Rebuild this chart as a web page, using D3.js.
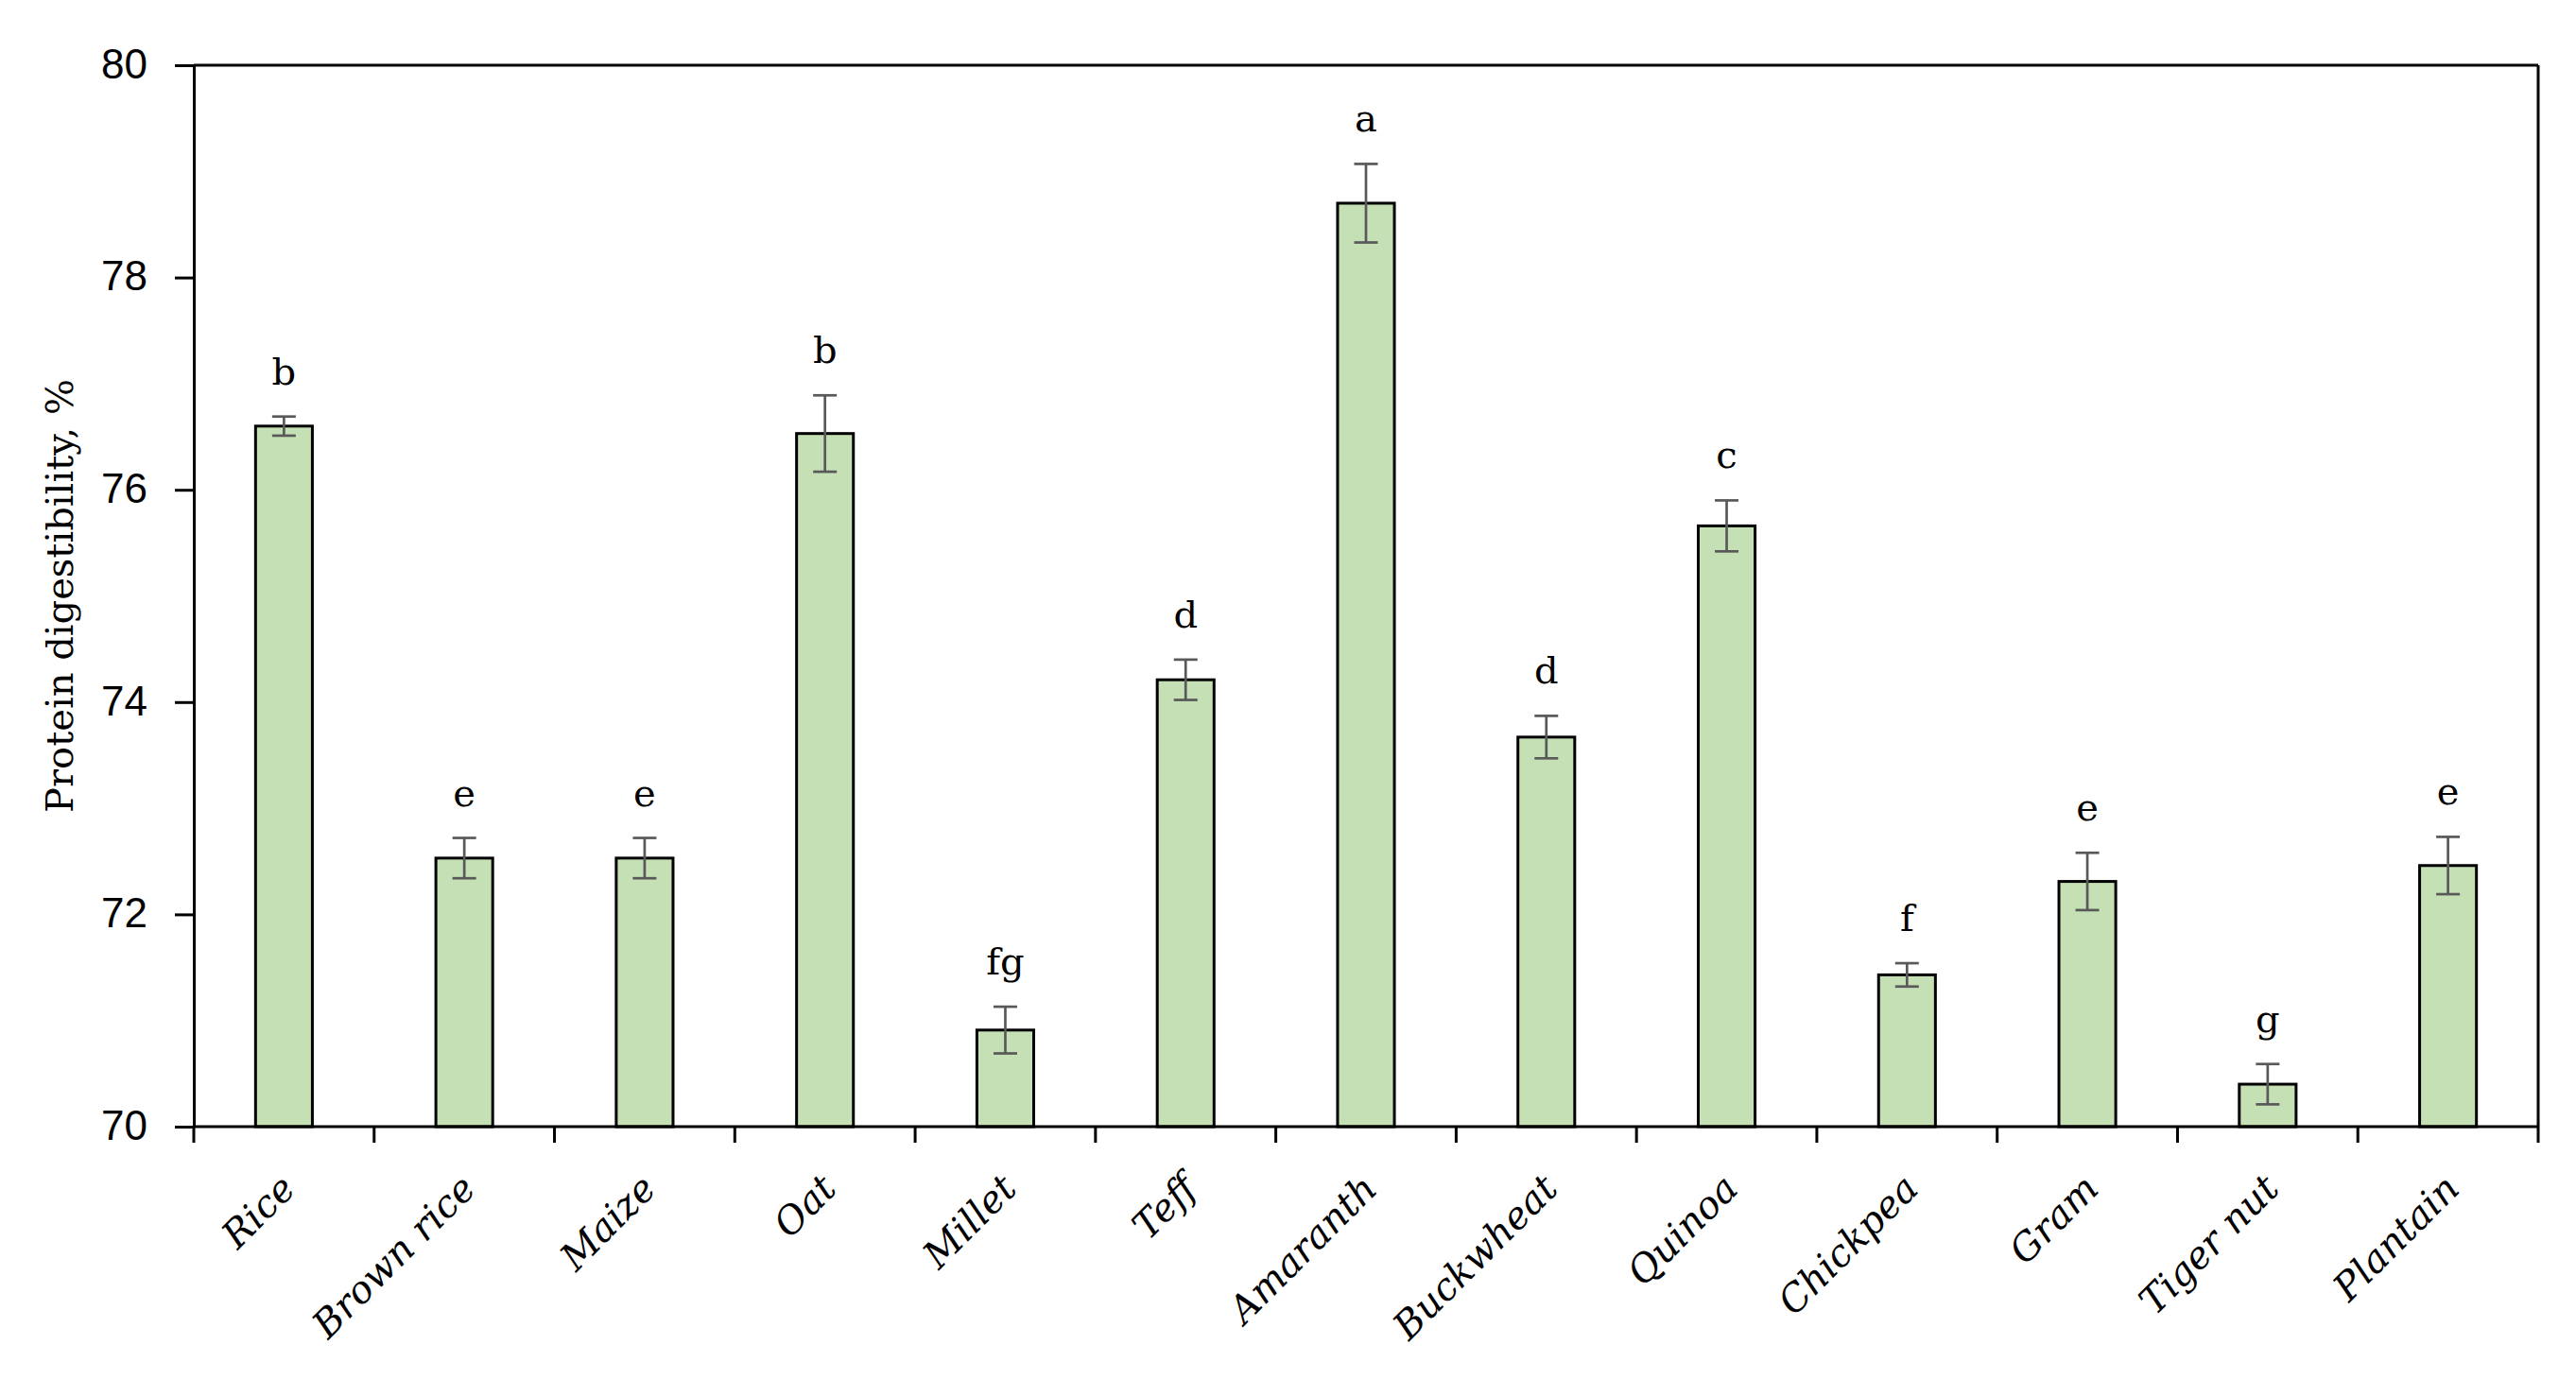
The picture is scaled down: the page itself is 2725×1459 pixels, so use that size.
<!DOCTYPE html>
<html>
<head>
<meta charset="utf-8">
<script src="https://cdn.jsdelivr.net/npm/d3@7"></script>
<style>
  html, body { margin: 0; padding: 0; background: #ffffff; }
  svg { display: block; }
</style>
</head>
<body>
<svg id="chart" width="2725" height="1459"></svg>
<script>
const categories = ["Rice", "Brown rice", "Maize", "Oat", "Millet", "Teff", "Amaranth", "Buckwheat", "Quinoa", "Chickpea", "Gram", "Tiger nut", "Plantain"];
const means = [76.60, 72.53, 72.53, 76.53, 70.91, 74.21, 78.70, 73.67, 75.66, 71.43, 72.31, 70.40, 72.46];
const errors = [0.09, 0.19, 0.19, 0.36, 0.22, 0.19, 0.37, 0.20, 0.24, 0.11, 0.27, 0.19, 0.27];
const letters = ["b", "e", "e", "b", "fg", "d", "a", "d", "c", "f", "e", "g", "e"];
const yTicks = [70, 72, 74, 76, 78, 80];
const yTitle = "Protein digestibility, %";

const svg = d3.select("#chart");
const W = 2725, H = 1459;
const m = { left: 205, right: W - 2685, top: 69, bottom: H - 1192 };
const x0 = m.left, x1 = W - m.right, y0 = H - m.bottom, y1 = m.top;

const data = categories.map((c, i) => ({ c, v: means[i], e: errors[i], l: letters[i] }));

const pad = 0.685;
const x = d3.scaleBand().domain(categories).range([x0, x1]).paddingInner(pad).paddingOuter(pad / 2);
const y = d3.scaleLinear().domain([70, 80]).range([y0, y1]);

const serif = "'DejaVu Serif', 'Liberation Serif', serif";
const sans = "'Liberation Sans', Arial, sans-serif";

// Bars
svg.append("g").selectAll("rect").data(data).join("rect")
  .attr("x", d => x(d.c))
  .attr("y", d => y(d.v))
  .attr("width", x.bandwidth())
  .attr("height", d => y(70) - y(d.v))
  .attr("fill", "#c5e0b4")
  .attr("stroke", "#000")
  .attr("stroke-width", 3);

// Error bars
const eg = svg.append("g").attr("stroke", "#595959").attr("stroke-width", 2.7);
const cx = d => x(d.c) + x.bandwidth() / 2;
const cap = 12.5;
eg.selectAll("line.v").data(data).join("line").attr("class", "v")
  .attr("x1", cx).attr("x2", cx)
  .attr("y1", d => y(d.v + d.e)).attr("y2", d => y(d.v - d.e));
eg.selectAll("line.t").data(data).join("line").attr("class", "t")
  .attr("x1", d => cx(d) - cap).attr("x2", d => cx(d) + cap)
  .attr("y1", d => y(d.v + d.e)).attr("y2", d => y(d.v + d.e));
eg.selectAll("line.b").data(data).join("line").attr("class", "b")
  .attr("x1", d => cx(d) - cap).attr("x2", d => cx(d) + cap)
  .attr("y1", d => y(d.v - d.e)).attr("y2", d => y(d.v - d.e));

// Significance letters
svg.append("g").selectAll("text").data(data).join("text")
  .attr("x", cx)
  .attr("y", d => y(d.v + d.e) - 34)
  .attr("text-anchor", "middle")
  .attr("font-family", serif)
  .attr("font-size", 40)
  .attr("fill", "#000")
  .text(d => d.l);

// Y axis
const yAxis = d3.axisLeft(y).tickValues(yTicks).tickSize(20).tickSizeOuter(0).tickPadding(29).tickFormat(d3.format("d"));
const ya = svg.append("g").attr("transform", `translate(${x0},0)`).call(yAxis);
ya.select(".domain").attr("stroke", "#000").attr("stroke-width", 3);
ya.selectAll(".tick line").attr("stroke", "#000").attr("stroke-width", 3);
ya.selectAll(".tick text").attr("font-family", sans).attr("font-size", 44).attr("fill", "#000").attr("dy", "0.30em");

// Frame: top and right
svg.append("line").attr("x1", x0).attr("x2", x1).attr("y1", y1).attr("y2", y1).attr("stroke", "#000").attr("stroke-width", 3);
svg.append("line").attr("x1", x1).attr("x2", x1).attr("y1", y1).attr("y2", y0).attr("stroke", "#000").attr("stroke-width", 3);

// X axis line + boundary ticks
svg.append("line").attr("x1", x0).attr("x2", x1).attr("y1", y0).attr("y2", y0).attr("stroke", "#000").attr("stroke-width", 3);
const bounds = categories.map(c => x(c) - x.step() * pad / 2).concat([x1]);
svg.append("g").selectAll("line").data(bounds).join("line")
  .attr("x1", d => d).attr("x2", d => d)
  .attr("y1", y0).attr("y2", y0 + 17)
  .attr("stroke", "#000").attr("stroke-width", 3);

// X labels
svg.append("g").selectAll("text").data(data).join("text")
  .attr("transform", d => `translate(${cx(d) + 14},${y0 + 68}) rotate(-45)`)
  .attr("text-anchor", "end")
  .attr("font-family", serif)
  .attr("font-style", "italic")
  .attr("font-size", 40)
  .attr("fill", "#000")
  .text(d => d.c);

// Y title
svg.append("text")
  .attr("transform", `translate(77,${(y0 + y1) / 2 + 0}) rotate(-90)`)
  .attr("text-anchor", "middle")
  .attr("font-family", serif)
  .attr("font-size", 40)
  .attr("fill", "#000")
  .text(yTitle);
</script>
</body>
</html>
